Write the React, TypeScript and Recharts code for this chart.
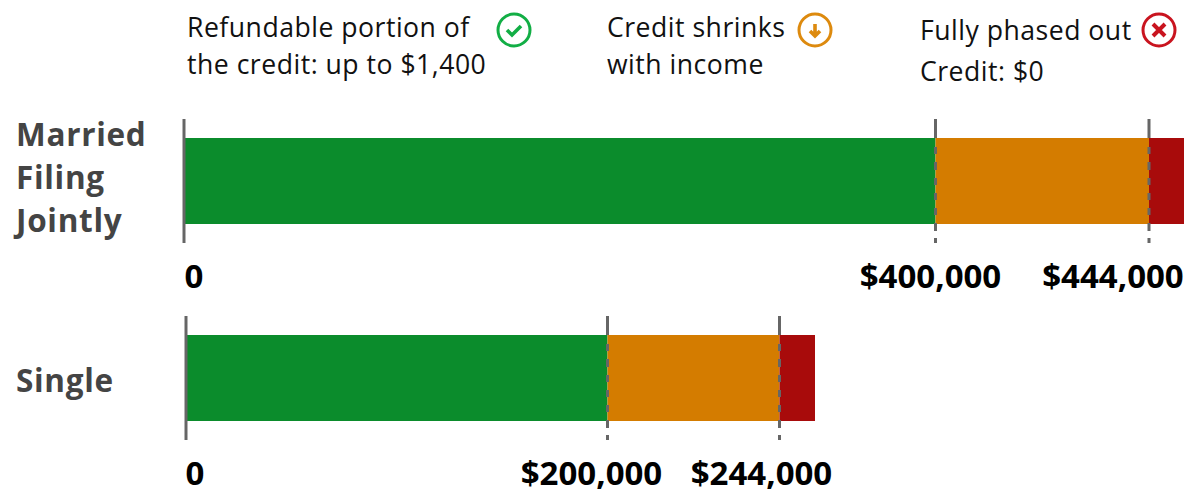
import { BarChart, Bar, XAxis, YAxis, ReferenceLine } from "recharts";

// The bands in the picture are not to dollar scale, so lengths are read off the
// picture as drawn lengths (axis runs 0-1000) and the dollar labels are separate.
const categories = ["Married Filing Jointly", "Single"];
const fullCredit = [751.5, 421.5];
const shrinking = [213.5, 172];
const phasedOut = [35, 35.5];
const marriedTickLabels = ["0", "$400,000", "$444,000"];
const singleTickLabels = ["0", "$200,000", "$244,000"];

const GREEN = "#0b8c2c";
const ORANGE = "#d47c00";
const RED = "#a80b0b";
const LINE = "#666666";

const THRESHOLD_DASH = "5 7 8 8 7 8 7 8 7 8 8 8 7 9 30";

function RowLabel({ y, payload, dy }: any) {
  const words = String(payload.value).split(" ");
  return (
    <text
      x={16}
      y={y + dy}
      fill="#444444"
      fontFamily="Open Sans"
      fontWeight={700}
      fontSize={31.5}
      letterSpacing={0.7}
    >
      {words.map((w, i) => (
        <tspan key={w} x={16} dy={i === 0 ? 0 : 43}>
          {w}
        </tspan>
      ))}
    </text>
  );
}

function DollarTick({ x, y, index, labels, shifts }: any) {
  return (
    <text
      x={x + shifts[index]}
      y={y + 37}
      textAnchor="middle"
      fill="#000000"
      fontFamily="Open Sans"
      fontWeight={700}
      fontSize={33}
    >
      {labels[index]}
    </text>
  );
}

interface RowProps {
  row: number;
  top: number;
  height: number;
  axisLeft: number;
  right: number;
  labels: string[];
  shifts: number[];
  labelDy: number;
}

function CreditRow({ row, top, height, axisLeft, right, labels, shifts, labelDy }: RowProps) {
  const data = [
    {
      name: categories[row],
      full: fullCredit[row],
      shrink: shrinking[row],
      out: phasedOut[row],
    },
  ];
  const first = fullCredit[row];
  const second = first + shrinking[row];
  return (
    <div style={{ position: "absolute", left: 0, top }}>
      <BarChart
        width={1186}
        height={height}
        data={data}
        layout="vertical"
        barSize={86}
        margin={{ top: 19, right, bottom: 0, left: 0 }}
      >
        <XAxis
          type="number"
          domain={[0, 1000]}
          ticks={[0, first, second]}
          interval={0}
          height={height - 143}
          axisLine={false}
          tickLine={false}
          tick={<DollarTick labels={labels} shifts={shifts} />}
        />
        <YAxis
          type="category"
          dataKey="name"
          width={axisLeft}
          axisLine={false}
          tickLine={false}
          tick={<RowLabel dy={labelDy} />}
        />
        <Bar dataKey="full" stackId="a" fill={GREEN} isAnimationActive={false} />
        <Bar dataKey="shrink" stackId="a" fill={ORANGE} isAnimationActive={false} />
        <Bar dataKey="out" stackId="a" fill={RED} isAnimationActive={false} />
        <ReferenceLine x={0} stroke={LINE} strokeWidth={3} />
        <ReferenceLine x={first} stroke={LINE} strokeWidth={3} strokeDasharray={THRESHOLD_DASH} />
        <ReferenceLine x={second} stroke={LINE} strokeWidth={3} strokeDasharray={THRESHOLD_DASH} />
      </BarChart>
    </div>
  );
}

function Note({ x, y, children }: { x: number; y: number; children: string }) {
  return (
    <div
      style={{
        position: "absolute",
        left: x,
        top: y,
        fontFamily: "Open Sans",
        fontSize: 26.6,
        lineHeight: "36px",
        letterSpacing: 0.5,
        color: "#111111",
        whiteSpace: "nowrap",
      }}
    >
      {children}
    </div>
  );
}

function Icon({ x, color, kind }: { x: number; color: string; kind: "check" | "down" | "cross" }) {
  return (
    <svg
      width={38}
      height={38}
      viewBox="-19 -19 38 38"
      style={{ position: "absolute", left: x - 19, top: 11 }}
      fill="none"
      stroke={color}
    >
      <circle r={16} strokeWidth={3} />
      {kind === "check" && <path d="M-7 0 L-2 5 L7 -4" strokeWidth={3.6} />}
      {kind === "down" && <path d="M0 -6 V6 M-5 1 L0 6 L5 1" strokeWidth={3.6} />}
      {kind === "cross" && <path d="M-6 -6 L6 6 M6 -6 L-6 6" strokeWidth={4} />}
    </svg>
  );
}

export default function App() {
  return (
    <div
      style={{
        position: "absolute",
        left: 0,
        top: 0,
        width: 1186,
        height: 491,
        overflow: "hidden",
        background: "#ffffff",
      }}
    >
      <Note x={187} y={9}>Refundable portion of</Note>
      <Note x={187} y={46}>the credit: up to $1,400</Note>
      <Icon x={514} color="#12ae45" kind="check" />
      <Note x={607} y={9}>Credit shrinks</Note>
      <Note x={607} y={46}>with income</Note>
      <Icon x={815} color="#dd8a0e" kind="down" />
      <Note x={920} y={12}>Fully phased out</Note>
      <Note x={920} y={53}>Credit: $0</Note>
      <Icon x={1159} color="#c9141f" kind="cross" />
      <CreditRow
        row={0}
        top={100}
        height={200}
        axisLeft={184}
        right={2}
        labels={marriedTickLabels}
        shifts={[10, -5, -36]}
        labelDy={-35}
      />
      <CreditRow
        row={1}
        top={297}
        height={194}
        axisLeft={186}
        right={0}
        labels={singleTickLabels}
        shifts={[9, -16, -18]}
        labelDy={14}
      />
    </div>
  );
}
